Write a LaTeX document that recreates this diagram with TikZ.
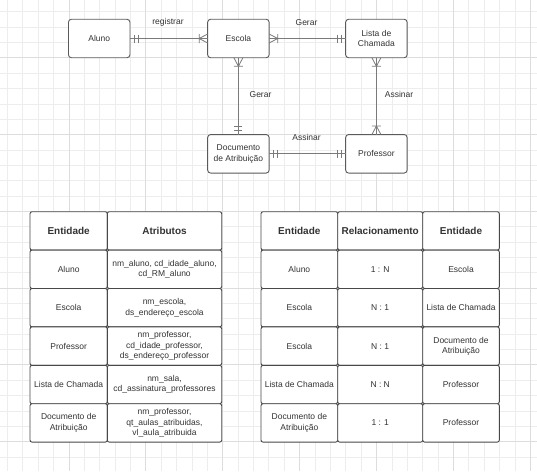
\documentclass[tikz,border=0pt]{standalone}
\usepackage{fontspec}
\setmainfont{Liberation Sans}
\definecolor{gridmin}{HTML}{EDEDED}
\definecolor{gridmaj}{HTML}{DDDDDD}
\definecolor{txt}{HTML}{333333}
\definecolor{edge}{HTML}{5A5A5A}
\definecolor{lnk}{HTML}{7A7A7A}
\tikzset{
  entity/.style={draw=edge, line width=0.9pt, rounded corners=3pt, fill=white,
    minimum width=61.5pt, minimum height=38.5pt, inner sep=1pt, outer sep=0pt,
    align=center, text=txt, font=\fontsize{8.5}{10.5}\selectfont},
  cell/.style={draw=edge!80!black, line width=0.9pt, rounded corners=2pt, fill=white,
    minimum height=38.4pt, inner sep=1pt, outer sep=0pt, align=center, text=txt,
    font=\fontsize{8.5}{10.5}\selectfont},
  head/.style={cell, font=\bfseries\fontsize{10}{12}\selectfont},
  cA/.style={minimum width=77.3pt}, cB/.style={minimum width=114.4pt},
  rA/.style={minimum width=76.7pt}, rB/.style={minimum width=85pt}, rC/.style={minimum width=76.6pt},
  conn/.style={draw=lnk, line width=0.8pt},
  lbl/.style={text=txt, font=\fontsize{8.5}{10.5}\selectfont, inner sep=0pt},
  mandone/.pic={\draw[conn] (-4,-4)--(-4,4) (-8,-4)--(-8,4);},
  onemany/.pic={\draw[conn] (0,-4.5)--(-8.5,0)--(0,4.5) (-8.5,-4.5)--(-8.5,4.5);}
}
\begin{document}
\begin{tikzpicture}[x=1pt,y=-1pt]
\useasboundingbox (0,0) rectangle (537,471);
\fill[white] (0,0) rectangle (537,471);
% grid
\foreach \i in {0,...,34}{\pgfmathsetmacro\xx{7.3+15.38*\i}\draw[gridmin,line width=0.6pt] (\xx,0)--(\xx,471);}
\foreach \i in {0,...,29}{\pgfmathsetmacro\yy{11.7+15.35*\i}\draw[gridmin,line width=0.6pt] (0,\yy)--(537,\yy);}
\foreach \i in {4,9,...,34}{\pgfmathsetmacro\xx{7.3+15.38*\i}\draw[gridmaj,line width=0.6pt] (\xx,0)--(\xx,471);}
\foreach \i in {3,8,...,28}{\pgfmathsetmacro\yy{11.7+15.35*\i}\draw[gridmaj,line width=0.6pt] (0,\yy)--(537,\yy);}

% entities
\node[entity] (aluno) at (99.2,38.5) {Aluno};
\node[entity] (escola) at (238.4,38.5) {Escola};
\node[entity] (lista) at (376.4,38.5) {Lista de\\Chamada};
\node[entity] (doc) at (238.4,153.8) {Documento\\de Atribuição};
\node[entity] (prof) at (376.4,153.8) {Professor};

% connectors
\draw[conn] (aluno) -- (escola);
\draw[conn] (escola) -- (lista);
\draw[conn] (escola) -- (doc);
\draw[conn] (lista) -- (prof);
\draw[conn] (doc) -- (prof);

\pic[rotate=180] at (aluno.east) {mandone};
\pic at (escola.west) {onemany};
\pic[rotate=180] at (escola.east) {onemany};
\pic at (lista.west) {mandone};
\pic[rotate=90] at (escola.south) {onemany};
\pic[rotate=-90] at (doc.north) {mandone};
\pic[rotate=90] at (lista.south) {onemany};
\pic[rotate=-90] at (prof.north) {onemany};
\pic[rotate=180] at (doc.east) {mandone};
\pic at (prof.west) {mandone};

% labels
\node[lbl] (l1) at (168,22.5) {registrar};
\node[lbl] (l2) at (306.5,22.5) {Gerar};
\node[lbl] (l3) at (260.5,94.3) {Gerar};
\node[lbl] (l4) at (399,94.3) {Assinar};
\node[lbl] (l5) at (306.5,137.5) {Assinar};

% left table
\node[head,cA] (a0) at (68.65,230.9) {Entidade};
\node[head,cB] (b0) at (164.5,230.9) {Atributos};
\node[cell,cA] (a1) at (68.65,269.3) {Aluno};
\node[cell,cB] (b1) at (164.5,269.3) {nm\_aluno, cd\_idade\_aluno,\\cd\_RM\_aluno};
\node[cell,cA] (a2) at (68.65,307.7) {Escola};
\node[cell,cB] (b2) at (164.5,307.7) {nm\_escola,\\ds\_endereço\_escola};
\node[cell,cA] (a3) at (68.65,346.1) {Professor};
\node[cell,cB] (b3) at (164.5,346.1) {nm\_professor,\\cd\_idade\_professor,\\ds\_endereço\_professor};
\node[cell,cA] (a4) at (68.65,384.5) {Lista de Chamada};
\node[cell,cB] (b4) at (164.5,384.5) {nm\_sala,\\cd\_assinatura\_professores};
\node[cell,cA] (a5) at (68.65,422.9) {Documento de\\Atribuição};
\node[cell,cB] (b5) at (164.5,422.9) {nm\_professor,\\qt\_aulas\_atribuidas,\\vl\_aula\_atribuida};

% right table
\node[head,rA] (p0) at (299.35,230.9) {Entidade};
\node[head,rB] (q0) at (380.2,230.9) {Relacionamento};
\node[head,rC] (r0) at (461,230.9) {Entidade};
\node[cell,rA] (p1) at (299.35,269.3) {Aluno};
\node[cell,rB] (q1) at (380.2,269.3) {1 : N};
\node[cell,rC] (r1) at (461,269.3) {Escola};
\node[cell,rA] (p2) at (299.35,307.7) {Escola};
\node[cell,rB] (q2) at (380.2,307.7) {N : 1};
\node[cell,rC] (r2) at (461,307.7) {Lista de Chamada};
\node[cell,rA] (p3) at (299.35,346.1) {Escola};
\node[cell,rB] (q3) at (380.2,346.1) {N : 1};
\node[cell,rC] (r3) at (461,346.1) {Documento de\\Atribuição};
\node[cell,rA] (p4) at (299.35,384.5) {Lista de Chamada};
\node[cell,rB] (q4) at (380.2,384.5) {N : N};
\node[cell,rC] (r4) at (461,384.5) {Professor};
\node[cell,rA] (p5) at (299.35,422.9) {Documento de\\Atribuição};
\node[cell,rB] (q5) at (380.2,422.9) {1 : 1};
\node[cell,rC] (r5) at (461,422.9) {Professor};
\end{tikzpicture}
\end{document}
